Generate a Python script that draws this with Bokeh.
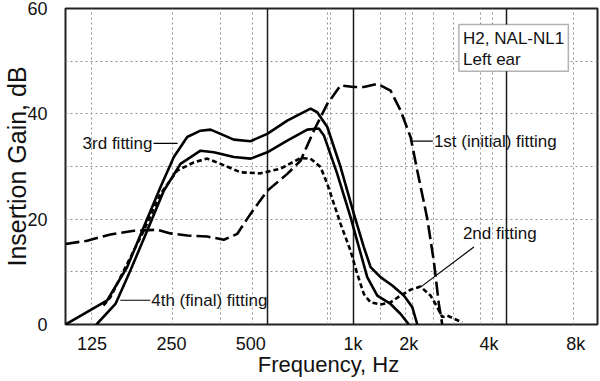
from bokeh.plotting import figure
from bokeh.models import Range1d, FixedTicker, Grid, BoxAnnotation, Label
from bokeh.embed import file_html
from bokeh.resources import INLINE

# x axis unit: nominal octaves above 125 Hz, as placed on the reference axis
tick_pos = [0.01, 0.99, 1.97, 3.23, 3.92, 4.91, 5.98]
tick_labels = ["125", "250", "500", "1k", "2k", "4k", "8k"]
dotted_grid_x = [0.0, 1.0, 1.596, 1.988, 2.914, 2.954, 3.57, 3.879, 3.963,
                 4.222, 4.477, 4.806, 4.951, 5.958]
solid_grid_x = [2.180, 3.242, 5.127]
y_ticks = [0, 20, 40, 60]
y_grid = [10, 20, 30, 40, 50]

# 3rd fitting (upper solid)
x_3rd = [-0.317, 0.198, 0.444, 0.649, 0.856, 1.020, 1.185, 1.349, 1.473, 1.596,
         1.760, 1.967, 2.173, 2.420, 2.707, 2.790, 2.914, 3.078, 3.242, 3.365,
         3.448, 3.571, 3.716, 3.859, 3.963, 4.025]
g_3rd = [0.0, 4.6, 10.9, 18.5, 26.1, 31.8, 35.6, 36.8, 37.0, 36.2,
         35.1, 34.8, 36.2, 38.7, 41.0, 40.3, 37.5, 29.9, 21.0, 14.7,
         10.9, 9.0, 7.4, 5.5, 3.3, 0.0]

# 4th (final) fitting (lower solid)
x_4th = [0.065, 0.300, 0.485, 0.691, 0.896, 1.102, 1.349, 1.514, 1.760, 1.967,
         2.173, 2.420, 2.667, 2.810, 2.872, 3.037, 3.201, 3.304, 3.407, 3.531,
         3.695, 3.819, 3.921]
g_4th = [0.0, 3.9, 10.3, 17.8, 25.4, 30.5, 33.0, 32.7, 31.8, 31.5,
         32.7, 34.9, 37.0, 37.2, 35.9, 28.6, 20.4, 14.7, 9.0, 5.5,
         3.9, 2.0, 0.0]

# 2nd fitting (short dashes)
x_2nd = [0.152, 0.238, 0.444, 0.649, 0.856, 1.062, 1.267, 1.432, 1.596, 1.843,
         2.090, 2.337, 2.584, 2.707, 2.831, 2.914, 3.078, 3.201, 3.284, 3.365,
         3.448, 3.571, 3.695, 3.819, 3.942, 4.065, 4.188, 4.272, 4.333, 4.395,
         4.477, 4.580]
g_2nd = [3.6, 5.2, 11.5, 17.8, 24.8, 29.2, 30.8, 31.5, 30.5, 28.9,
         28.7, 29.6, 31.6, 31.5, 29.9, 26.7, 19.1, 14.0, 9.6, 5.8,
         4.2, 3.8, 4.2, 5.5, 6.6, 7.2, 5.5, 3.3, 1.4, 1.7,
         1.1, 0.4]

# 1st (initial) fitting (long dashes)
x_1st = [-0.317, -0.049, 0.238, 0.526, 0.815, 0.979, 1.185, 1.432, 1.637, 1.802,
         1.967, 2.173, 2.420, 2.584, 2.748, 2.914, 3.078, 3.242, 3.365, 3.531,
         3.695, 3.819, 3.942, 4.025, 4.148, 4.230, 4.291, 4.333]
g_1st = [15.3, 15.9, 17.1, 17.8, 18.0, 17.3, 16.9, 16.7, 16.1, 17.2,
         21.0, 25.4, 28.6, 31.1, 36.8, 41.9, 45.4, 45.1, 45.1, 45.7,
         44.4, 40.6, 35.6, 29.2, 20.1, 11.9, 3.9, 0.0]

FONT = "Liberation Sans"
INK = "#111111"

p = figure(width=600, height=381, output_backend="svg", toolbar_location=None,
           x_range=Range1d(-0.317, 6.249), y_range=Range1d(0, 60),
           min_border_left=65, min_border_right=3, min_border_top=8,
           min_border_bottom=57)
p.background_fill_color = "white"
p.border_fill_color = "white"
p.outline_line_color = "#222222"
p.outline_line_width = 2

p.xaxis.ticker = FixedTicker(ticks=tick_pos)
p.xaxis.major_label_overrides = {t: l for t, l in zip(tick_pos, tick_labels)}
p.yaxis.ticker = FixedTicker(ticks=y_ticks)
for ax in (p.xaxis, p.yaxis):
    ax.axis_line_color = None
    ax.major_tick_line_color = None
    ax.minor_tick_line_color = None
    ax.major_label_text_font = FONT
    ax.major_label_text_font_size = "18px"
    ax.major_label_text_color = INK
    ax.axis_label_text_font = FONT
    ax.axis_label_text_font_style = "normal"
    ax.axis_label_text_color = INK
p.xaxis.major_label_standoff = 3
p.yaxis.major_label_standoff = 12
p.xaxis.axis_label = "Frequency,  Hz"
p.xaxis.axis_label_text_font_size = "22px"
p.xaxis.axis_label_standoff = -5
p.yaxis.axis_label = "Insertion Gain, dB"
p.yaxis.axis_label_text_font_size = "25px"
p.yaxis.axis_label_standoff = -7

p.xgrid.ticker = FixedTicker(ticks=dotted_grid_x)
p.ygrid.ticker = FixedTicker(ticks=y_grid)
for g in (p.xgrid, p.ygrid):
    g.grid_line_color = "#8f8f8f"
    g.grid_line_dash = "2 3"
    g.grid_line_width = 1
p.add_layout(Grid(dimension=0, ticker=FixedTicker(ticks=solid_grid_x),
                  grid_line_color="#1a1a1a", grid_line_width=1.5))

LW = 2.6
p.line(x_1st, g_1st, line_color="black", line_width=LW, line_dash="14 5")
p.line(x_2nd, g_2nd, line_color="black", line_width=LW, line_dash="5 3")
p.line(x_4th, g_4th, line_color="black", line_width=LW)
p.line(x_3rd, g_3rd, line_color="black", line_width=LW)

# leader lines
p.segment(x0=[0.769, 0.36, 3.963, 4.065], y0=[34.4, 4.6, 34.8, 7.1],
          x1=[1.066, 0.73, 4.217, 4.723], y1=[34.4, 4.6, 34.8, 14.7],
          line_color="black", line_width=1.2)

def lab(x, y, t, align="left", size="17px"):
    p.add_layout(Label(x=x, y=y, text=t, text_font=FONT, text_font_size=size,
                       text_align=align, text_baseline="middle", text_color=INK))

lab(0.757, 34.4, "3rd fitting", "right")
lab(0.741, 4.6, "4th (final) fitting")
lab(4.230, 34.8, "1st (initial) fitting")
lab(4.588, 17.2, "2nd fitting")

p.add_layout(BoxAnnotation(left=4.538, right=5.889, bottom=48.1, top=56.96,
                           fill_color="white", fill_alpha=1.0,
                           line_color="black", line_width=1.5))
lab(4.590, 54.3, "H2, NAL-NL1")
lab(4.590, 50.3, "Left ear")

open("out.html", "w").write(file_html(p, INLINE))
